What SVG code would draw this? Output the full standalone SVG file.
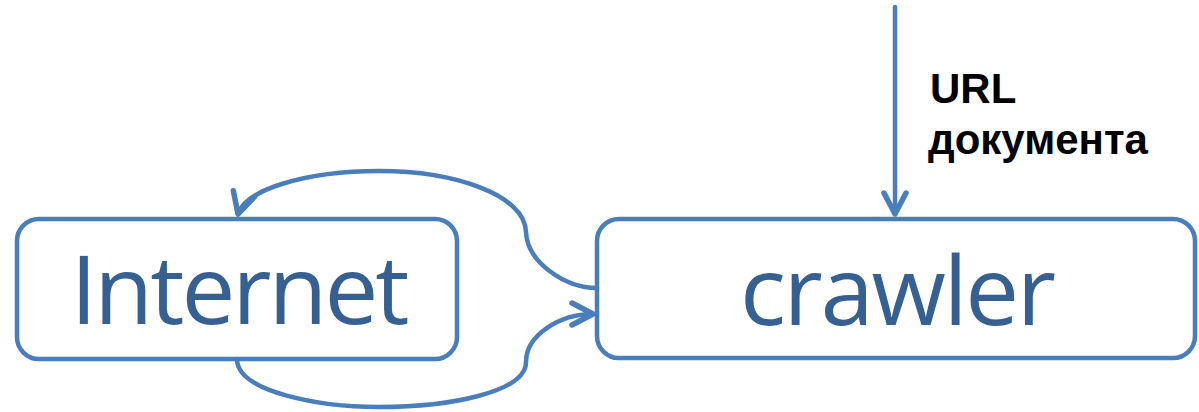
<svg xmlns="http://www.w3.org/2000/svg" width="1199" height="412" viewBox="0 0 1199 412">
<style>
.box{fill:#ffffff;stroke:#4A7EBB;stroke-width:4.5}
.lbl{font-family:"Open Sans","Liberation Sans",sans-serif;font-size:96px;fill:#376092;text-anchor:middle}
.edge{fill:none;stroke:#4A7EBB;stroke-width:4.5;stroke-linecap:round;stroke-linejoin:round;marker-end:url(#arr)}
.note{font-family:"Liberation Sans",Arial,sans-serif;font-weight:bold;font-size:42px;fill:#000000}
</style>
<defs>
<marker id="arr" markerUnits="userSpaceOnUse" markerWidth="40" markerHeight="40" viewBox="-30 -20 40 40" refX="0" refY="0" orient="auto" overflow="visible">
<path d="M-21,-11 L0,0 L-21,11" fill="none" stroke="#4A7EBB" stroke-width="5.5" stroke-linecap="round" stroke-linejoin="round"/>
</marker>
</defs>
<g id="internet">
<rect class="box" x="17" y="219" width="440" height="140" rx="22"/>
<text class="lbl" x="240" y="324" textLength="339">Internet</text>
</g>
<g id="crawler">
<rect class="box" x="597" y="219" width="598" height="139" rx="22"/>
<text class="lbl" x="898" y="325" textLength="316">crawler</text>
</g>
<g id="connectors">
<path class="edge" d="M895,7 L895,214"/>
<path class="edge" d="M597,288 C565,288 527,262 526,232 C525,195 455,171 379,171 C305,171 245,190 238,214"/>
<path class="edge" d="M237,359 C237,392 320,407 379,407 C450,407 526,392 526,362 C526,335 560,314 593,314"/>
</g>
<g id="label">
<text class="note" x="930" y="103">URL</text>
<text class="note" x="928" y="154">документа</text>
</g>
</svg>
